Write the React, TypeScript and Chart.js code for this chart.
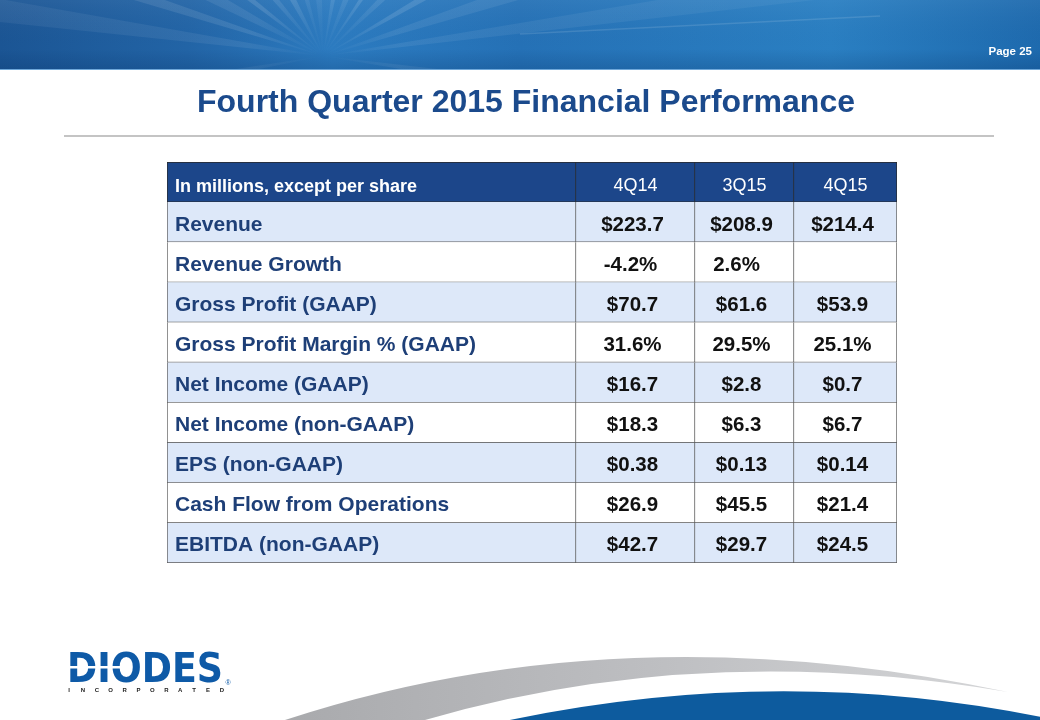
import React, { useEffect, useRef } from 'react';
import { Chart, registerables } from 'chart.js';

Chart.register(...registerables);

// ---- Data ----
const slideTitle = 'Fourth Quarter 2015 Financial Performance';
const pageLabel = 'Page 25';
const columnHeaders = ['In millions, except per share', '4Q14', '3Q15', '4Q15'];
const metrics = [
  'Revenue',
  'Revenue Growth',
  'Gross Profit (GAAP)',
  'Gross Profit Margin % (GAAP)',
  'Net Income (GAAP)',
  'Net Income (non-GAAP)',
  'EPS (non-GAAP)',
  'Cash Flow from Operations',
  'EBITDA (non-GAAP)',
];
const metricFormats = ['usd', 'pct', 'usd', 'pct', 'usd', 'usd', 'usd2', 'usd', 'usd'];
const values4Q14 = [223.7, -4.2, 70.7, 31.6, 16.7, 18.3, 0.38, 26.9, 42.7];
const values3Q15 = [208.9, 2.6, 61.6, 29.5, 2.8, 6.3, 0.13, 45.5, 29.7];
const values4Q15: (number | null)[] = [214.4, null, 53.9, 25.1, 0.7, 6.7, 0.14, 21.4, 24.5];

// ---- Layout / style ----
const columnWeights = [409, 119, 99, 103];
const FONT = '"Liberation Sans", Arial, Helvetica, sans-serif';
const HEADER_BG = '#1C468A';
const BAND_BG = '#DDE8F9';
const BORDER = '#5A5A5A';
const LABEL_COLOR = '#1E3F77';

const colEdges = columnWeights.reduce<number[]>((acc, w) => [...acc, acc[acc.length - 1] + w], [0]);
const rowKeys = ['header', ...metrics];
const valueColumns = [values4Q14, values3Q15, values4Q15];

function fmt(v: number | null, f: string): string {
  if (v === null || v === undefined) return '';
  if (f === 'pct') return v.toFixed(1) + '%';
  if (f === 'usd2') return '$' + v.toFixed(2);
  return '$' + v.toFixed(1);
}

const decorPlugin = {
  id: 'decor',
  beforeDraw(chart: any) {
    const ctx: CanvasRenderingContext2D = chart.ctx;
    const W = chart.width;
    const H = chart.height;
    ctx.save();
    ctx.fillStyle = '#FFFFFF';
    ctx.fillRect(0, 0, W, H);

    // banner
    const bh = 70;
    const g = ctx.createLinearGradient(0, 0, W, 0);
    g.addColorStop(0, '#1B5594');
    g.addColorStop(0.18, '#2264A6');
    g.addColorStop(0.32, '#2C7BC0');
    g.addColorStop(0.5, '#2571B6');
    g.addColorStop(0.8, '#2A7FC2');
    g.addColorStop(1, '#1E6AAE');
    ctx.fillStyle = g;
    ctx.fillRect(0, 0, W, bh);

    ctx.save();
    ctx.beginPath();
    ctx.rect(0, 0, W, bh);
    ctx.clip();
    const cx = 323, cy = 56;
    const rays = [
      [-172, 0.07, 4], [-162, 0.1, 3], [-152, 0.08, 5], [-142, 0.12, 3], [-130, 0.1, 4],
      [-118, 0.14, 5], [-106, 0.09, 4], [-94, 0.08, 6], [-80, 0.13, 4], [-68, 0.1, 5],
      [-56, 0.14, 3], [-44, 0.09, 4], [-30, 0.12, 3], [-18, 0.08, 4], [-8, 0.07, 3], [8, 0.08, 3], [170, 0.07, 3],
    ];
    rays.forEach(([ang, a, w]) => {
      const r1 = (ang - w / 2) * Math.PI / 180;
      const r2 = (ang + w / 2) * Math.PI / 180;
      const rg = ctx.createRadialGradient(cx, cy, 0, cx, cy, 500);
      rg.addColorStop(0, `rgba(255,255,255,0)`);
      rg.addColorStop(0.15, `rgba(255,255,255,${a})`);
      rg.addColorStop(1, `rgba(255,255,255,${a * 0.6})`);
      ctx.beginPath();
      ctx.moveTo(cx, cy);
      ctx.lineTo(cx + Math.cos(r1) * 900, cy + Math.sin(r1) * 900);
      ctx.lineTo(cx + Math.cos(r2) * 900, cy + Math.sin(r2) * 900);
      ctx.closePath();
      ctx.fillStyle = rg;
      ctx.fill();
    });
    ctx.strokeStyle = 'rgba(255,255,255,0.12)';
    ctx.lineWidth = 1.5;
    ctx.beginPath();
    ctx.moveTo(520, 34);
    ctx.lineTo(880, 16);
    ctx.stroke();
    const vg = ctx.createLinearGradient(0, 0, 0, bh);
    vg.addColorStop(0, 'rgba(255,255,255,0.05)');
    vg.addColorStop(0.7, 'rgba(0,40,90,0)');
    vg.addColorStop(1, 'rgba(0,40,90,0.2)');
    ctx.fillStyle = vg;
    ctx.fillRect(0, 0, W, bh);
    ctx.restore();
    ctx.fillStyle = '#6FA8DA';
    ctx.fillRect(0, bh - 1, W, 1);

    // page number
    ctx.font = `bold 11.5px ${FONT}`;
    ctx.fillStyle = '#FFFFFF';
    ctx.textAlign = 'right';
    ctx.textBaseline = 'alphabetic';
    ctx.fillText(pageLabel, 1032, 55);

    // title
    ctx.font = `bold 32px ${FONT}`;
    ctx.fillStyle = '#1B4A8C';
    ctx.textAlign = 'center';
    ctx.fillText(slideTitle, 526, 112);

    // divider
    ctx.strokeStyle = '#C4C4C4';
    ctx.lineWidth = 2;
    ctx.beginPath();
    ctx.moveTo(64, 136);
    ctx.lineTo(994, 136);
    ctx.stroke();

    // grey swoosh
    const sg = ctx.createLinearGradient(290, 0, 1008, 0);
    sg.addColorStop(0, '#A9AAAD');
    sg.addColorStop(0.5, '#BDBEC1');
    sg.addColorStop(1, '#D4D5D7');
    ctx.fillStyle = sg;
    ctx.beginPath();
    ctx.moveTo(285, 720);
    ctx.quadraticCurveTo(620, 610, 1008, 692);
    ctx.quadraticCurveTo(700, 640, 425, 720);
    ctx.closePath();
    ctx.fill();

    // blue arc
    ctx.fillStyle = '#0D5B9E';
    ctx.beginPath();
    ctx.moveTo(505, 721);
    ctx.quadraticCurveTo(787, 661, 1065, 722);
    ctx.lineTo(1065, 725);
    ctx.lineTo(505, 725);
    ctx.closePath();
    ctx.fill();

    // logo
    ctx.font = `bold 40px "DejaVu Sans", ${FONT}`;
    ctx.fillStyle = '#0E5AA7';
    ctx.textAlign = 'left';
    const lw = ctx.measureText('DIODES').width;
    ctx.save();
    ctx.translate(67, 682);
    ctx.scale(156 / lw, 1);
    ctx.fillText('DIODES', 0, 0);
    ctx.restore();
    ctx.fillStyle = '#FFFFFF';
    ctx.fillRect(70, 666, 56, 2.5);
    ctx.font = `bold 6px ${FONT}`;
    ctx.fillStyle = '#222222';
    ctx.textAlign = 'center';
    const inc = 'INCORPORATED';
    for (let i = 0; i < inc.length; i++) {
      ctx.fillText(inc[i], 69 + i * 13.9, 692);
    }
    ctx.font = `7px ${FONT}`;
    ctx.fillStyle = '#0E5AA7';
    ctx.fillText('®', 228, 685);
    ctx.restore();
  },
};

const tableTextPlugin = {
  id: 'tableText',
  afterDatasetsDraw(chart: any) {
    const ctx: CanvasRenderingContext2D = chart.ctx;
    const xs = chart.scales.x;
    const ys = chart.scales.y;
    ctx.save();
    ctx.textBaseline = 'alphabetic';
    rowKeys.forEach((_, r) => {
      const yc = ys.getPixelForValue(r);
      for (let c = 0; c < columnHeaders.length; c++) {
        const left = xs.getPixelForValue(colEdges[c]);
        const mid = xs.getPixelForValue((colEdges[c] + colEdges[c + 1]) / 2);
        if (r === 0) {
          ctx.fillStyle = '#FFFFFF';
          if (c === 0) {
            ctx.font = `bold 18px ${FONT}`;
            ctx.textAlign = 'left';
            ctx.fillText(columnHeaders[c], left + 8, yc + 9.5);
          } else {
            ctx.font = `18px ${FONT}`;
            ctx.textAlign = 'center';
            ctx.fillText(columnHeaders[c], mid, yc + 9);
          }
        } else if (c === 0) {
          ctx.fillStyle = LABEL_COLOR;
          ctx.font = `bold 21px ${FONT}`;
          ctx.textAlign = 'left';
          ctx.fillText(metrics[r - 1], left + 8, yc + 8.5);
        } else {
          ctx.fillStyle = '#111111';
          ctx.font = `bold 20.5px ${FONT}`;
          ctx.textAlign = 'center';
          const txt = fmt(valueColumns[c - 1][r - 1], metricFormats[r - 1]);
          const shift = metricFormats[r - 1] === 'pct' && r === 2 ? (c === 2 ? -8 : -5) : -3;
          ctx.fillText(txt, mid + shift, yc + 8.5);
        }
      }
    });
    ctx.restore();
  },
};

export default function App() {
  const ref = useRef<HTMLCanvasElement>(null);
  useEffect(() => {
    const canvas = ref.current;
    if (!canvas) return;
    const datasets = columnHeaders.map((h, c) => ({
      label: h,
      data: rowKeys.map(() => [colEdges[c], colEdges[c + 1]]),
      backgroundColor: rowKeys.map((_, r) => (r === 0 ? HEADER_BG : r % 2 === 1 ? BAND_BG : '#FFFFFF')),
      borderColor: rowKeys.map((_, r) => (r === 0 ? '#2A2A2A' : BORDER)),
      borderWidth: (ctx: any) => ({
        top: ctx.dataIndex === 0 ? 1 : 0,
        left: c === 0 ? 1 : 0,
        right: 1,
        bottom: 1,
      }),
      borderSkipped: false,
      barPercentage: 1,
      categoryPercentage: 1,
      grouped: false,
    }));
    const chart = new Chart(canvas, {
      type: 'bar',
      data: { labels: rowKeys, datasets: datasets as any },
      options: {
        indexAxis: 'y',
        responsive: false,
        animation: false,
        devicePixelRatio: 1,
        layout: { padding: { left: 167, top: 162, right: 143, bottom: 157 } },
        plugins: { legend: { display: false }, tooltip: { enabled: false }, title: { display: false } },
        scales: {
          x: { type: 'linear', min: 0, max: colEdges[colEdges.length - 1], display: false },
          y: { type: 'category', display: false, offset: true },
        },
      } as any,
      plugins: [decorPlugin, tableTextPlugin],
    });
    return () => chart.destroy();
  }, []);
  return (
    <div style={{ position: 'fixed', left: 0, top: 0, width: 1040, height: 720, background: '#fff' }}>
      <canvas ref={ref} width={1040} height={720} style={{ width: 1040, height: 720, display: 'block' }} />
    </div>
  );
}
